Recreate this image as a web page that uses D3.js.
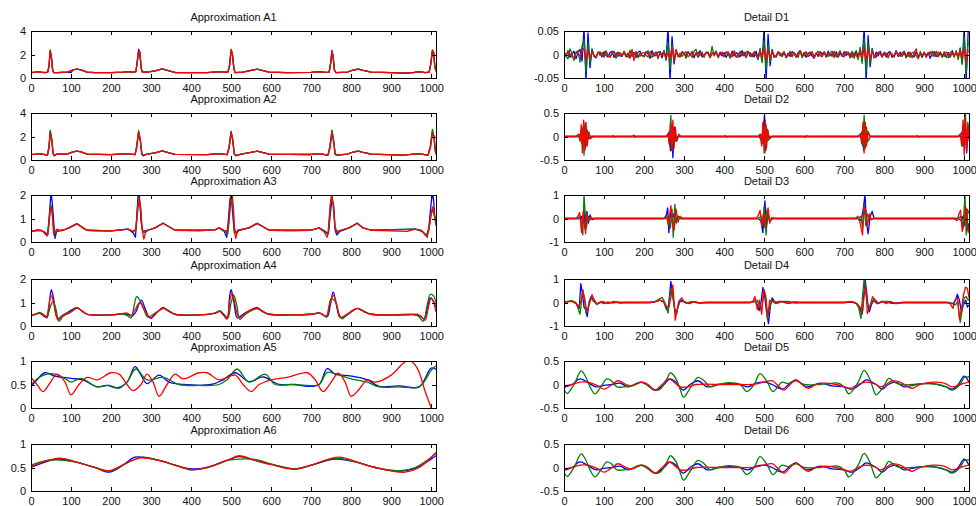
<!DOCTYPE html>
<html>
<head>
<meta charset="utf-8">
<script src="https://cdn.jsdelivr.net/npm/d3@7"></script>
<style>
  body { margin: 0; background: #fff; }
  svg { display: block; font-family: "Liberation Sans", Arial, sans-serif; }
</style>
</head>
<body>
<svg id="chart" width="976" height="506"></svg>
<script>
// x axis (sample index)
const xMax = 1012;
const xTicks = [0, 100, 200, 300, 400, 500, 600, 700, 800, 900, 1000];

// ---- Approximation A1 ----
const a1Red = [[0,0.45],[10,0.5],[18,0.55],[25,0.5],[35,0.45],[42,0.5],[45,1.0],[48,2.4],[51,1.8],[54,0.7],[57,0.45],[65,0.45],[90,0.5],[105,0.7],[115,0.75],[125,0.7],[140,0.5],[160,0.45],[200,0.45],[230,0.5],[240,0.55],[255,0.5],[262,0.55],[265,1.2],[269,2.35],[272,2.2],[275,0.9],[278,0.5],[290,0.5],[310,0.6],[328,0.78],[345,0.6],[360,0.47],[400,0.45],[440,0.45],[470,0.55],[480,0.5],[492,0.5],[496,1.0],[500,2.4],[503,2.1],[507,0.8],[510,0.45],[530,0.5],[550,0.65],[565,0.75],[580,0.62],[595,0.5],[640,0.45],[700,0.48],[720,0.55],[735,0.48],[745,0.5],[749,1.3],[752,2.35],[755,1.8],[758,0.7],[762,0.45],[790,0.5],[805,0.68],[818,0.75],[830,0.65],[850,0.5],[900,0.45],[930,0.42],[955,0.45],[970,0.55],[985,0.45],[995,0.5],[999,1.2],[1003,2.35],[1006,2.2],[1009,1.0],[1012,0.6]];
const a1Green = [[0,0.45],[10,0.5],[18,0.55],[25,0.5],[35,0.45],[42,0.5],[45,1.1],[48,2.3],[51,1.7],[54,0.7],[57,0.45],[65,0.45],[90,0.5],[105,0.7],[115,0.75],[125,0.7],[140,0.5],[160,0.45],[200,0.45],[230,0.5],[240,0.55],[255,0.5],[262,0.55],[265,1.2],[269,2.3],[272,2.1],[275,0.9],[278,0.5],[290,0.5],[310,0.6],[328,0.78],[345,0.6],[360,0.47],[400,0.45],[440,0.45],[470,0.55],[480,0.5],[492,0.5],[496,1.1],[500,2.45],[503,2.1],[507,0.8],[510,0.45],[530,0.5],[550,0.65],[565,0.75],[580,0.62],[595,0.5],[640,0.45],[700,0.48],[720,0.55],[735,0.48],[745,0.5],[749,1.3],[752,2.3],[755,1.8],[758,0.7],[762,0.45],[790,0.5],[805,0.68],[818,0.75],[830,0.65],[850,0.5],[900,0.45],[930,0.42],[955,0.45],[970,0.55],[985,0.45],[995,0.5],[999,1.2],[1003,2.4],[1006,2.2],[1009,1.0],[1012,0.6]];
const a1Blue = [[0,0.45],[10,0.5],[18,0.55],[25,0.5],[35,0.45],[42,0.5],[45,1.0],[48,2.3],[51,1.8],[54,0.7],[57,0.45],[65,0.45],[90,0.5],[100,0.45],[105,0.7],[115,0.75],[125,0.7],[140,0.5],[160,0.45],[200,0.45],[230,0.5],[240,0.55],[255,0.5],[262,0.55],[265,1.3],[269,2.45],[272,2.2],[275,0.9],[278,0.5],[290,0.5],[310,0.6],[328,0.78],[345,0.6],[360,0.47],[400,0.45],[440,0.45],[470,0.55],[480,0.5],[492,0.5],[496,1.0],[500,2.3],[503,2.1],[507,0.8],[510,0.45],[530,0.5],[550,0.65],[565,0.75],[580,0.62],[595,0.5],[640,0.45],[700,0.48],[720,0.55],[735,0.48],[745,0.5],[749,1.3],[752,2.3],[755,1.8],[758,0.7],[762,0.45],[790,0.5],[805,0.68],[818,0.75],[830,0.65],[850,0.5],[900,0.45],[930,0.42],[955,0.45],[970,0.55],[985,0.45],[995,0.5],[999,1.2],[1003,2.3],[1006,2.2],[1009,1.0],[1012,0.55]];

// ---- Approximation A2 ----
const a2Red = [[0,0.45],[12,0.5],[20,0.55],[35,0.45],[41,0.4],[45,1.0],[48,2.3],[52,1.6],[55,0.6],[58,0.35],[64,0.5],[90,0.5],[105,0.7],[115,0.75],[125,0.7],[140,0.5],[200,0.45],[240,0.55],[260,0.45],[264,1.0],[269,2.35],[273,1.8],[277,0.5],[280,0.35],[290,0.5],[310,0.6],[328,0.78],[345,0.6],[360,0.48],[440,0.45],[470,0.55],[490,0.45],[495,1.0],[500,2.3],[504,1.8],[508,0.5],[512,0.35],[525,0.5],[550,0.65],[565,0.75],[580,0.62],[595,0.5],[700,0.47],[720,0.55],[742,0.4],[747,1.0],[752,2.3],[756,1.6],[760,0.5],[764,0.4],[790,0.5],[805,0.68],[818,0.75],[830,0.65],[850,0.5],[930,0.42],[970,0.55],[992,0.4],[998,1.0],[1003,2.3],[1007,2.0],[1010,0.8],[1012,0.5]];
const a2Green = [[0,0.45],[12,0.5],[20,0.55],[35,0.45],[41,0.4],[45,1.2],[48,2.55],[52,1.8],[55,0.6],[58,0.4],[64,0.5],[90,0.5],[105,0.7],[115,0.75],[125,0.7],[140,0.5],[200,0.45],[240,0.55],[260,0.45],[264,1.2],[269,2.5],[273,1.7],[277,0.5],[280,0.4],[290,0.5],[310,0.6],[328,0.78],[345,0.6],[360,0.48],[440,0.45],[470,0.55],[490,0.45],[495,1.1],[500,2.45],[504,1.7],[508,0.5],[512,0.4],[525,0.5],[550,0.65],[565,0.75],[580,0.62],[595,0.5],[700,0.47],[720,0.55],[742,0.42],[747,1.2],[752,2.55],[756,1.7],[760,0.5],[764,0.42],[790,0.5],[805,0.68],[818,0.75],[830,0.65],[850,0.5],[930,0.42],[970,0.55],[992,0.42],[998,1.2],[1003,2.6],[1007,2.0],[1010,0.9],[1012,0.5]];
const a2Blue = [[0,0.45],[12,0.5],[20,0.55],[35,0.45],[41,0.4],[45,1.1],[48,2.4],[52,1.7],[55,0.6],[58,0.38],[64,0.5],[90,0.5],[105,0.7],[115,0.75],[125,0.7],[140,0.5],[200,0.45],[240,0.55],[260,0.45],[264,1.1],[269,2.4],[273,1.7],[277,0.5],[280,0.38],[290,0.5],[310,0.6],[328,0.78],[345,0.6],[360,0.48],[440,0.45],[470,0.55],[490,0.45],[495,1.1],[500,2.4],[504,1.7],[508,0.5],[512,0.38],[525,0.5],[550,0.65],[565,0.75],[580,0.62],[595,0.5],[700,0.47],[720,0.55],[742,0.42],[747,1.1],[752,2.45],[756,1.7],[760,0.5],[764,0.42],[790,0.5],[805,0.68],[818,0.75],[830,0.65],[850,0.5],[930,0.42],[970,0.55],[992,0.42],[998,1.1],[1003,2.4],[1007,2.0],[1010,0.9],[1012,0.5]];

// ---- Approximation A3 ----
const a3Red = [[0,0.45],[15,0.5],[25,0.5],[33,0.4],[40,0.25],[44,0.6],[48,1.3],[51,1.5],[54,1.0],[57,0.3],[60,0.45],[65,0.55],[70,0.48],[80,0.5],[95,0.6],[115,0.78],[130,0.6],[140,0.5],[160,0.47],[200,0.47],[230,0.52],[242,0.55],[255,0.45],[262,0.5],[266,1.2],[270,1.85],[274,1.5],[278,0.5],[282,0.12],[286,0.4],[292,0.5],[310,0.6],[330,0.8],[345,0.65],[360,0.5],[420,0.47],[460,0.52],[470,0.6],[482,0.5],[490,0.45],[494,0.8],[498,1.6],[503,2.0],[506,1.4],[509,0.4],[512,0.15],[516,0.5],[530,0.55],[545,0.6],[565,0.8],[580,0.65],[595,0.5],[650,0.47],[700,0.5],[720,0.6],[732,0.45],[740,0.2],[744,0.5],[748,1.6],[752,1.95],[756,1.5],[760,0.6],[764,0.4],[775,0.5],[795,0.6],[815,0.8],[830,0.6],[850,0.5],[900,0.47],[940,0.45],[960,0.55],[975,0.5],[985,0.3],[990,0.2],[995,0.6],[1000,1.2],[1004,1.5],[1008,1.2],[1012,0.9]];
const a3Green = [[0,0.45],[15,0.5],[28,0.48],[36,0.35],[41,0.3],[45,0.9],[49,1.6],[53,1.3],[56,0.6],[60,0.35],[66,0.5],[80,0.5],[95,0.6],[115,0.78],[130,0.6],[140,0.5],[200,0.47],[242,0.55],[255,0.45],[262,0.55],[266,1.4],[269,1.9],[273,1.6],[277,0.6],[282,0.4],[292,0.5],[310,0.6],[330,0.8],[345,0.65],[360,0.5],[460,0.52],[470,0.6],[485,0.45],[492,0.35],[496,1.1],[500,2.0],[504,1.5],[508,0.6],[513,0.35],[520,0.5],[545,0.6],[565,0.8],[580,0.65],[595,0.5],[700,0.5],[720,0.6],[735,0.4],[742,0.35],[747,1.4],[751,2.05],[755,1.6],[759,0.7],[764,0.45],[775,0.5],[795,0.6],[815,0.8],[830,0.6],[850,0.5],[960,0.55],[978,0.45],[988,0.3],[994,0.5],[999,1.1],[1003,1.4],[1008,1.1],[1012,0.7]];
const a3Blue = [[0,0.45],[15,0.5],[28,0.48],[36,0.4],[42,0.3],[46,1.2],[50,2.1],[53,1.7],[57,0.8],[60,0.15],[64,0.45],[80,0.5],[95,0.6],[115,0.78],[130,0.6],[140,0.5],[200,0.47],[242,0.55],[255,0.4],[261,0.2],[264,1.0],[268,2.1],[271,1.9],[275,0.9],[279,0.45],[292,0.5],[310,0.6],[330,0.8],[345,0.65],[360,0.5],[460,0.52],[470,0.6],[483,0.45],[489,0.2],[493,0.9],[497,1.8],[500,2.0],[504,1.2],[508,0.4],[513,0.4],[520,0.5],[545,0.6],[565,0.78],[580,0.65],[595,0.5],[700,0.5],[720,0.6],[735,0.45],[743,0.35],[748,1.2],[752,1.8],[756,1.6],[760,0.5],[764,0.3],[772,0.45],[795,0.6],[815,0.8],[830,0.6],[850,0.5],[960,0.55],[978,0.45],[988,0.25],[994,0.6],[999,1.5],[1003,2.1],[1006,1.8],[1009,1.0],[1012,0.95]];

// ---- Approximation A4 ----
const a4Red = [[0,0.45],[10,0.5],[20,0.55],[30,0.45],[38,0.38],[44,0.8],[50,1.3],[55,1.1],[62,0.5],[68,0.25],[76,0.4],[85,0.5],[100,0.6],[115,0.78],[128,0.62],[140,0.5],[160,0.47],[200,0.47],[225,0.52],[240,0.55],[250,0.45],[262,0.75],[272,1.0],[280,0.8],[292,0.45],[300,0.35],[312,0.55],[330,0.75],[345,0.62],[360,0.5],[420,0.47],[460,0.55],[472,0.62],[482,0.45],[490,0.3],[497,1.1],[503,1.4],[510,0.9],[518,0.4],[525,0.35],[540,0.6],[565,0.75],[580,0.6],[595,0.5],[650,0.47],[700,0.5],[722,0.55],[738,0.42],[748,1.0],[756,1.3],[764,0.9],[773,0.35],[785,0.45],[800,0.6],[817,0.75],[832,0.6],[850,0.5],[900,0.47],[950,0.48],[965,0.5],[975,0.4],[985,0.25],[993,0.8],[1000,1.2],[1006,1.0],[1012,0.6]];
const a4Green = [[0,0.45],[12,0.5],[22,0.58],[32,0.48],[40,0.4],[48,0.8],[55,1.05],[62,0.75],[70,0.2],[80,0.4],[95,0.55],[115,0.75],[130,0.62],[140,0.5],[200,0.47],[225,0.52],[240,0.45],[250,0.35],[257,0.8],[264,1.25],[272,1.1],[282,0.7],[292,0.38],[302,0.45],[315,0.6],[332,0.75],[345,0.65],[360,0.5],[420,0.47],[460,0.55],[472,0.65],[482,0.5],[492,0.35],[500,1.0],[507,1.3],[514,0.9],[522,0.28],[532,0.45],[545,0.6],[565,0.73],[580,0.62],[595,0.5],[650,0.47],[700,0.5],[722,0.55],[738,0.38],[744,0.8],[750,1.15],[760,1.05],[770,0.5],[778,0.3],[790,0.5],[815,0.75],[832,0.62],[850,0.5],[900,0.47],[955,0.5],[968,0.42],[980,0.2],[990,0.9],[998,1.35],[1005,1.3],[1012,1.0]];
const a4Blue = [[0,0.45],[12,0.5],[22,0.55],[32,0.42],[40,0.35],[46,1.0],[51,1.55],[57,1.1],[64,0.4],[68,0.3],[78,0.45],[92,0.58],[115,0.78],[128,0.62],[140,0.5],[200,0.47],[230,0.52],[242,0.5],[252,0.42],[262,0.6],[270,0.95],[276,1.1],[284,0.8],[294,0.4],[300,0.33],[315,0.58],[330,0.78],[345,0.62],[360,0.5],[420,0.47],[460,0.55],[472,0.62],[482,0.45],[490,0.3],[496,1.2],[500,1.55],[507,1.0],[515,0.35],[522,0.4],[540,0.6],[565,0.78],[580,0.6],[595,0.5],[650,0.47],[700,0.5],[722,0.55],[740,0.4],[748,0.9],[755,1.45],[762,1.0],[772,0.38],[785,0.42],[800,0.6],[815,0.75],[832,0.62],[850,0.5],[900,0.47],[955,0.48],[970,0.45],[982,0.3],[990,0.7],[998,1.2],[1004,1.1],[1012,0.8]];

// ---- Approximation A5 ----
const a5Blue = [[0,0.45],[15,0.6],[35,0.75],[60,0.68],[100,0.63],[130,0.6],[165,0.45],[190,0.48],[215,0.43],[240,0.55],[260,0.88],[275,0.7],[290,0.52],[320,0.7],[345,0.55],[380,0.5],[450,0.5],[480,0.6],[510,0.75],[545,0.56],[580,0.66],[620,0.5],[660,0.5],[690,0.46],[720,0.5],[740,0.84],[760,0.72],[800,0.68],[840,0.6],[870,0.46],[920,0.47],[970,0.45],[1000,0.85],[1012,0.82]];
const a5Green = [[0,0.5],[20,0.65],[40,0.72],[60,0.72],[90,0.6],[100,0.55],[125,0.63],[165,0.45],[195,0.48],[220,0.42],[240,0.55],[262,0.83],[290,0.6],[330,0.65],[370,0.5],[420,0.48],[470,0.5],[490,0.6],[515,0.83],[545,0.55],[585,0.72],[610,0.5],[650,0.5],[690,0.48],[720,0.5],[740,0.76],[760,0.73],[800,0.62],[840,0.55],[870,0.45],[920,0.45],[970,0.45],[1000,0.8],[1012,0.9]];
const a5Red = [[0,0.65],[15,0.5],[30,0.35],[45,0.5],[65,0.72],[85,0.55],[100,0.28],[120,0.5],[140,0.65],[165,0.6],[200,0.75],[220,0.72],[240,0.5],[255,0.37],[275,0.5],[290,0.72],[305,0.55],[320,0.25],[340,0.5],[360,0.72],[380,0.62],[420,0.75],[440,0.75],[470,0.6],[510,0.7],[530,0.5],[550,0.35],[570,0.5],[600,0.6],[640,0.65],[690,0.75],[710,0.6],[730,0.35],[750,0.55],[768,0.74],[785,0.55],[800,0.25],[820,0.4],[840,0.6],[860,0.55],[900,0.7],[930,0.95],[945,1.02],[965,0.85],[985,0.35],[1000,0.0],[1012,-0.3]];

// ---- Approximation A6 ----
const a6Blue = [[0,0.5],[65,0.68],[110,0.62],[160,0.5],[195,0.4],[230,0.55],[260,0.72],[320,0.65],[360,0.55],[400,0.47],[440,0.5],[490,0.65],[520,0.73],[560,0.65],[600,0.57],[660,0.47],[700,0.55],[760,0.68],[810,0.62],[860,0.5],[920,0.42],[960,0.48],[1012,0.75]];
const a6Green = [[0,0.55],[50,0.66],[110,0.62],[160,0.5],[200,0.43],[240,0.6],[280,0.72],[320,0.65],[360,0.55],[400,0.45],[440,0.5],[490,0.65],[520,0.68],[560,0.67],[610,0.55],[660,0.47],[720,0.6],[760,0.7],[820,0.6],[860,0.5],[920,0.43],[960,0.5],[1012,0.8]];
const a6Red = [[0,0.52],[70,0.7],[120,0.6],[160,0.5],[190,0.42],[240,0.6],[270,0.7],[320,0.65],[360,0.55],[400,0.45],[440,0.5],[490,0.65],[520,0.75],[560,0.65],[600,0.56],[660,0.46],[700,0.55],[770,0.72],[820,0.6],[860,0.5],[935,0.4],[970,0.5],[1012,0.82]];

// ---- Detail D1 (sampled every 5, values in thousandths) ----
const d1Step = 5;
const d1BlueMilli = [5,-3,8,-6,2,7,-9,4,11,-14, 55,-55,46,-28,12,-4,-7,5,2,-5, 6,-2,-5,4,7,-6,1,5,-3,-4, 6,-5,3,-7,2,4,-6,5,7,-2, -4,6,1,-8,8,-3,-2,5,6,-7, 7,-11,55,-55,38,-20,9,-2,-5,6, 3,-4,6,-2,5,-7,4,2,8,-5, -2,4,5,-6,3,1,7,-5,5,-3, 4,-6,2,-5,7,-3,4,1,-5,8, -3,5,6,-4,2,-5,7,-9,11,-15, 55,-55,43,-24,11,-6,-3,5,2,-4, 5,-7,3,-4,6,2,-5,4,8,-3, 4,-6,2,5,-3,-8,3,-4,6,1, 5,-4,7,-3,2,-5,6,-6,3,-4, 6,-2,5,-7,3,-4,8,-5,11,-13, 55,-55,40,-26,13,-7,5,-3,7,-4, 2,-5,4,6,-6,-2,8,-4,5,-3, 4,-7,5,2,-3,-5,6,-4,2,-6, 5,-3,4,-8,2,6,-4,-3,5,-2, 3,-6,4,-5,8,-3,5,-7,13,-19, 55,-55,50];
const d1GreenMilli = [6,-4,-9,12,2,-13,5,8,-16,18, 32,-36,24,-18,10,-3,-7,5,-2,4, -6,8,-1,-5,3,6,-8,2,4,-3, 7,-2,-6,9,-4,1,5,-7,3,-2, -5,4,8,-3,-6,2,5,-9,6,-1, 9,-12,26,-30,22,-10,6,-3,-5,4, 3,-8,5,1,-6,7,11,-4,-2,5, -6,4,2,-5,17,-3,6,-7,1,4, -5,6,2,-8,3,5,-4,-6,7,-2, 5,-7,3,4,-5,6,-2,-11,13,-17, 29,-33,21,-15,8,-2,-6,5,3,-4, 6,-5,-3,7,-2,4,-6,1,8,-7, 3,5,-4,-2,6,-6,2,7,-3,-4, 5,-6,3,1,-4,7,-5,2,8,-3, -5,6,2,-4,7,-8,5,-11,15,-19, 34,-37,25,-17,11,-4,-6,5,2,-6, 4,3,-7,5,-2,-5,6,1,-4,3, 7,-5,2,-6,4,5,-3,-8,6,-2, 4,-6,3,1,7,-4,-3,5,2,-6, 6,-4,-7,5,3,-6,8,-11,14,-21, 37,-39,29];
const d1RedMilli = [3,-2,6,1,-5,-7,4,2,-3,8, 13,-14,9,-6,4,-2,-5,3,6,-4, 1,5,-3,-6,2,7,-1,-4,3,-2, 5,-3,2,-8,11,-13,6,-1,-4,3, 4,-2,-5,6,1,-3,5,-6,2,-1, 6,-8,4,-10,15,-14,11,-5,3,-4, 2,6,-5,-1,7,-3,2,-6,4,1, -3,5,2,-7,4,-2,6,-4,-1,5, -4,3,6,-2,-5,8,-6,1,4,-3, 2,-5,7,-1,-3,5,-2,-7,6,-4, 14,-13,10,-7,5,-2,-4,6,-3,2, 5,-6,1,3,-5,4,-2,-6,8,-1, -3,6,-4,2,5,-7,3,-2,4,-5, 6,-1,-4,3,7,-6,2,-3,5,-2, -4,6,-1,3,-6,4,-2,-8,9,-5, 15,-14,11,-8,6,-3,-5,4,2,-4, 5,-2,-6,3,1,-5,7,-3,2,-4, 6,-1,-4,5,-7,3,12,-9,2,-3, 4,-5,1,6,-3,-2,7,-5,3,-1, -4,5,2,-6,4,-3,6,-5,8,-7, 13,-15,10];
const toPairs = (vals) => vals.map((v, i) => [i * d1Step, v / 1000]);
const d1Blue = toPairs(d1BlueMilli), d1Green = toPairs(d1GreenMilli), d1Red = toPairs(d1RedMilli);

// ---- Detail D2 ----
const d2Blue = [[0,0],[38,0],[43,0.05],[47,-0.2],[50,0.25],[53,-0.25],[57,0.15],[62,-0.05],[68,0],[258,0],[263,0.1],[266,-0.3],[269,0.25],[272,-0.45],[276,0.2],[280,-0.1],[286,0],[488,0],[494,-0.1],[498,0.2],[501,0.45],[504,-0.3],[508,0.15],[513,-0.05],[520,0],[738,0],[745,0.1],[749,-0.3],[752,0.3],[755,-0.2],[759,0.1],[765,0],[988,0],[995,0.1],[999,-0.2],[1002,0.35],[1006,-0.35],[1010,0.2],[1012,0]];
const d2Green = [[0,0],[35,0],[40,0.05],[44,-0.15],[47,0.2],[50,-0.4],[53,0.3],[56,-0.2],[60,0.1],[66,0],[255,0],[260,0.05],[264,-0.2],[267,0.45],[270,-0.3],[273,0.2],[277,-0.1],[283,0],[485,0],[492,0.05],[496,-0.15],[499,0.2],[502,-0.35],[505,0.25],[509,-0.1],[515,0],[735,0],[742,0.05],[746,-0.2],[750,0.45],[753,-0.25],[756,0.2],[760,-0.1],[766,0],[985,0],[992,0.05],[996,-0.2],[1000,0.3],[1003,0.5],[1006,-0.3],[1009,0.3],[1012,0]];
const d2Red = [[0,0],[30,0],[36,0.05],[40,-0.1],[43,0.25],[46,-0.35],[49,0.35],[52,-0.3],[55,0.3],[58,-0.2],[62,0.1],[66,-0.05],[72,0],[120,0],[123,0.02],[126,-0.02],[129,0],[170,0],[175,0.03],[178,-0.02],[181,0],[255,0],[260,0.05],[263,-0.15],[266,0.3],[269,-0.3],[272,0.35],[275,-0.25],[278,0.2],[282,-0.1],[287,0.05],[292,0],[400,0],[403,0.02],[406,-0.02],[409,0],[485,0],[490,0.05],[494,-0.2],[497,0.3],[500,-0.35],[503,0.35],[506,-0.25],[509,0.15],[513,-0.05],[520,0],[600,0],[603,-0.02],[606,0.02],[609,0],[735,0],[740,0.05],[744,-0.15],[747,0.3],[750,-0.35],[753,0.3],[756,-0.2],[760,0.1],[765,0],[880,0],[883,0.02],[886,-0.02],[889,0],[985,0],[990,0.05],[994,-0.2],[997,0.35],[1000,-0.4],[1003,0.4],[1006,-0.3],[1009,0.25],[1012,-0.1]];

// ---- Detail D3 ----
const d3Blue = [[0,0],[38,0],[43,0.1],[47,-0.2],[50,0.35],[53,-0.4],[57,0.3],[61,-0.2],[65,0.15],[70,-0.05],[78,0],[250,0],[256,0.15],[259,0.45],[262,-0.6],[266,0.3],[270,-0.1],[274,0.2],[279,-0.15],[284,0.1],[290,0],[485,0],[492,-0.1],[497,-0.6],[502,0.75],[506,-0.3],[510,0.2],[515,-0.1],[522,0],[735,0],[742,-0.1],[747,0.3],[752,1.0],[756,-0.2],[760,-0.65],[765,0.1],[770,0.3],[775,0],[985,0],[993,-0.1],[997,0.1],[1001,-0.3],[1005,0.4],[1009,-0.5],[1012,-0.2]];
const d3Green = [[0,0],[35,0],[40,0.1],[44,-0.3],[47,-0.7],[50,1.0],[53,0.2],[56,-0.4],[60,0.1],[65,-0.05],[70,0],[255,0],[262,0.1],[266,-0.4],[270,0.4],[273,-0.8],[277,0.6],[281,-0.2],[286,0.1],[292,0],[485,0],[492,0.1],[497,-0.3],[500,0.5],[505,-0.7],[509,0.3],[513,-0.1],[520,0],[735,0],[742,0.1],[746,-0.4],[750,0.6],[754,-0.3],[758,0.2],[764,-0.05],[770,0],[985,0],[992,0.1],[997,-0.4],[1002,1.0],[1005,-0.7],[1008,0.4],[1012,0.2]];
const d3Red = [[0,0],[30,0],[35,0.1],[39,0.25],[44,-0.6],[48,0.3],[51,-0.3],[54,-0.65],[57,0.2],[61,-0.1],[66,0.05],[72,0],[250,0],[256,0.1],[261,-0.3],[267,0.55],[271,-0.2],[275,-0.5],[280,0.4],[285,-0.15],[290,0.1],[296,0],[480,0],[486,0.15],[490,0.35],[494,-0.3],[498,0.2],[502,-0.4],[506,0.3],[510,0.45],[514,-0.2],[519,0.05],[526,0],[728,0],[734,0.1],[740,-0.2],[746,-0.7],[750,0.5],[754,0.35],[758,-0.3],[763,0.2],[768,-0.05],[775,0],[975,0],[982,-0.1],[987,0.2],[991,0.35],[995,-0.55],[999,-0.3],[1003,0.5],[1007,0.3],[1010,-0.6],[1012,-0.4]];

// ---- Detail D4 ----
const d4Blue = [[0,0],[10,0.05],[20,0.06],[28,0],[34,-0.1],[38,-0.25],[42,0.8],[46,0.4],[50,-0.2],[54,-0.3],[58,-0.6],[63,0.05],[68,0.25],[74,0.05],[82,-0.05],[95,0.03],[110,-0.03],[125,0.03],[140,0],[215,0],[228,0.03],[240,0.1],[250,0],[256,-0.3],[261,-0.2],[267,0.9],[272,0.3],[277,-0.3],[281,-0.5],[287,0.05],[295,0.1],[305,-0.03],[320,0.04],[340,-0.02],[350,0],[465,0],[478,0.05],[483,-0.1],[488,-0.35],[493,0.1],[497,0.64],[502,0.2],[506,-0.4],[511,-0.9],[516,-0.1],[520,0.2],[528,0],[540,0.05],[560,-0.04],[575,0.03],[595,0],[700,0],[720,0.02],[732,-0.05],[740,-0.3],[745,-0.5],[749,0.3],[752,1.0],[756,0.5],[760,-0.2],[763,-0.4],[768,-0.1],[775,0.15],[785,-0.03],[800,0.04],[820,-0.04],[845,0],[960,0],[972,-0.05],[978,0.1],[983,0.35],[988,0.1],[993,-0.4],[998,-0.1],[1004,0.1],[1008,-0.2],[1012,-0.1]];
const d4Green = [[0,0],[10,0.05],[20,0.08],[30,0],[36,-0.3],[40,-0.5],[44,0.1],[47,0.55],[51,0.2],[55,-0.45],[60,-0.2],[67,0.2],[74,0.05],[82,-0.08],[95,0.05],[110,-0.05],[125,0.05],[140,-0.03],[155,0],[215,0],[228,0.05],[238,0.15],[245,0.22],[252,0],[260,-0.45],[264,0.2],[268,0.6],[273,0.1],[278,-0.4],[283,-0.3],[290,0.05],[300,0.03],[315,-0.05],[325,0.05],[340,-0.03],[360,0],[465,0],[475,0.05],[482,0.1],[488,-0.1],[494,-0.3],[500,0.55],[504,0.2],[508,-0.7],[514,-0.2],[520,0.1],[530,0],[540,0.05],[560,0.05],[580,-0.03],[595,0],[700,0],[715,0.05],[728,0],[736,-0.2],[742,-0.68],[746,0.3],[750,1.0],[755,0.3],[760,-0.2],[766,-0.1],[772,0.1],[782,-0.05],[795,0.05],[810,0.05],[830,-0.05],[850,0],[960,0],[970,-0.05],[978,-0.1],[984,0.05],[990,-0.85],[995,-0.3],[1000,0.2],[1005,0.25],[1010,0.1],[1012,0.15]];
const d4Red = [[0,0],[10,0.03],[20,0.05],[30,-0.05],[37,-0.2],[43,0.1],[47,0.5],[52,0.1],[57,-0.4],[63,-0.1],[70,0.33],[76,0.1],[82,-0.08],[90,0.02],[100,-0.05],[110,0.03],[120,-0.03],[130,0],[215,0],[225,0.03],[240,0.1],[248,0.05],[256,-0.15],[262,-0.2],[267,0.2],[272,0.75],[278,-0.75],[283,-0.3],[289,0.1],[294,0.2],[300,0.05],[310,-0.05],[320,0.04],[335,-0.03],[350,0],[465,0],[472,0.05],[477,0.25],[483,-0.3],[488,0.1],[494,-0.5],[499,0.55],[504,0.3],[509,-0.6],[514,0.1],[520,0.05],[530,-0.05],[545,0.04],[560,-0.03],[580,0],[700,0],[720,0.03],[732,-0.05],[740,-0.2],[746,-0.4],[750,0.3],[754,0.7],[758,-0.47],[764,-0.2],[771,0.25],[778,0.05],[785,-0.05],[795,0.05],[805,-0.05],[815,0.05],[828,-0.05],[845,0],[955,0],[965,-0.05],[972,-0.25],[977,0.1],[983,0.2],[988,-0.7],[993,-0.3],[998,0.3],[1003,0.65],[1008,0.6],[1012,0.2]];

// ---- Detail D5 (D6 reads the same) ----
const d5Blue = [[0,-0.06],[20,0],[40,0.12],[60,0.04],[80,-0.05],[100,-0.02],[120,0],[140,0.03],[160,-0.05],[195,0.05],[215,-0.05],[230,-0.12],[250,0],[265,0.12],[280,0.05],[298,-0.12],[315,0],[335,0.08],[358,-0.05],[385,0],[420,0.02],[440,0],[460,-0.05],[480,0.03],[500,0.05],[520,0],[545,-0.1],[565,0.03],[580,0.1],[605,-0.05],[640,0.03],[670,-0.03],[700,-0.05],[720,-0.1],[740,0],[755,0.1],[780,0],[795,-0.1],[810,0],[830,0.05],[850,-0.05],[880,0],[920,0.02],[955,-0.05],[970,-0.1],[985,0],[1000,0.18],[1012,0.05]];
const d5Green = [[0,-0.1],[8,-0.19],[25,0],[43,0.29],[55,0.15],[65,-0.05],[77,-0.2],[92,-0.05],[107,0.12],[117,0.09],[132,-0.05],[150,-0.05],[170,-0.02],[190,0.05],[205,0],[225,-0.12],[240,-0.1],[257,0.12],[266,0.25],[280,0.12],[290,-0.1],[299,-0.27],[315,-0.08],[335,0.15],[350,0.08],[365,-0.05],[385,0],[410,0.04],[440,0],[457,-0.15],[475,0],[490,0.23],[508,0.05],[522,-0.15],[545,0.05],[560,0.02],[580,0.08],[600,0],[640,0],[665,0.02],[685,0.03],[700,-0.05],[712,-0.2],[735,0.05],[750,0.3],[765,0.1],[772,-0.08],[780,-0.22],[798,-0.05],[812,0.13],[825,0.05],[840,0],[870,0],[900,0.02],[935,0],[955,-0.05],[969,-0.12],[990,0],[1000,0.15],[1012,0.16]];
const d5Red = [[0,-0.03],[20,0],[40,0.05],[60,0.05],[85,-0.03],[100,-0.1],[120,0],[135,0.08],[155,0],[170,-0.03],[195,0.05],[210,0],[227,-0.12],[245,0],[262,0.12],[275,0.05],[290,-0.05],[310,-0.05],[330,0],[400,0],[440,0],[470,0],[500,0.05],[520,0.08],[538,-0.05],[550,-0.12],[565,0],[580,0.1],[595,0],[610,-0.08],[630,0],[650,0.03],[680,0],[700,-0.05],[715,-0.08],[735,0],[755,0.05],[780,0],[790,-0.05],[805,0],[820,0.08],[840,0.05],[860,-0.05],[870,-0.08],[890,0],[920,0.05],[950,0.03],[970,-0.05],[990,0],[1012,0.05]];
const d6Blue = d5Blue, d6Green = d5Green, d6Red = d5Red;

const seriesColors = ["#0000ff", "#008000", "#ff0000"]; // drawn in this order

const panels = [
  { title: "Approximation A1", col: 0, row: 0, yDomain: [0, 4], yTicks: [0, 2, 4], lines: [a1Blue, a1Green, a1Red] },
  { title: "Approximation A2", col: 0, row: 1, yDomain: [0, 4], yTicks: [0, 2, 4], lines: [a2Blue, a2Green, a2Red] },
  { title: "Approximation A3", col: 0, row: 2, yDomain: [0, 2], yTicks: [0, 1, 2], lines: [a3Blue, a3Green, a3Red] },
  { title: "Approximation A4", col: 0, row: 3, yDomain: [0, 2], yTicks: [0, 1, 2], lines: [a4Blue, a4Green, a4Red], smooth: true },
  { title: "Approximation A5", col: 0, row: 4, yDomain: [0, 1], yTicks: [0, 0.5, 1], lines: [a5Blue, a5Green, a5Red], smooth: true },
  { title: "Approximation A6", col: 0, row: 5, yDomain: [0, 1], yTicks: [0, 0.5, 1], lines: [a6Blue, a6Green, a6Red], smooth: true },
  { title: "Detail D1", col: 1, row: 0, yDomain: [-0.05, 0.05], yTicks: [-0.05, 0, 0.05], lines: [d1Blue, d1Green, d1Red] },
  { title: "Detail D2", col: 1, row: 1, yDomain: [-0.5, 0.5], yTicks: [-0.5, 0, 0.5], lines: [d2Blue, d2Green, d2Red] },
  { title: "Detail D3", col: 1, row: 2, yDomain: [-1, 1], yTicks: [-1, 0, 1], lines: [d3Blue, d3Green, d3Red] },
  { title: "Detail D4", col: 1, row: 3, yDomain: [-1, 1], yTicks: [-1, 0, 1], lines: [d4Blue, d4Green, d4Red] },
  { title: "Detail D5", col: 1, row: 4, yDomain: [-0.5, 0.5], yTicks: [-0.5, 0, 0.5], lines: [d5Blue, d5Green, d5Red], smooth: true },
  { title: "Detail D6", col: 1, row: 5, yDomain: [-0.5, 0.5], yTicks: [-0.5, 0, 0.5], lines: [d6Blue, d6Green, d6Red], smooth: true },
];

// layout (pixels)
const colX = [[31, 436], [564, 969]];
const rowTops = [31, 113, 195, 279, 361, 444];
const plotH = 47;
const tick = 4;
const lineWidth = 1.3;

const svg = d3.select("#chart");

panels.forEach((p, i) => {
  const [x0, x1] = colX[p.col];
  const top = rowTops[p.row];
  const bottom = top + plotH;

  const x = d3.scaleLinear().domain([0, xMax]).range([x0, x1]);
  const y = d3.scaleLinear().domain(p.yDomain).range([bottom, top]);

  const g = svg.append("g").attr("class", "panel");

  g.append("clipPath")
    .attr("id", "clip" + i)
    .append("rect")
    .attr("x", x0)
    .attr("y", top)
    .attr("width", x1 - x0)
    .attr("height", plotH);

  const line = d3
    .line()
    .x((d) => x(d[0]))
    .y((d) => y(d[1]))
    .curve(p.smooth ? d3.curveCatmullRom.alpha(0.5) : d3.curveLinear);

  g.append("g")
    .attr("clip-path", `url(#clip${i})`)
    .selectAll("path")
    .data(p.lines)
    .join("path")
    .attr("d", line)
    .attr("fill", "none")
    .attr("stroke", (d, j) => seriesColors[j])
    .attr("stroke-width", lineWidth)
    .attr("stroke-linejoin", "round");

  const fmt = (d) => String(d);

  const bx = g.append("g")
    .attr("transform", `translate(0,${bottom})`)
    .call(d3.axisBottom(x).tickValues(xTicks).tickFormat(fmt).tickSizeInner(-tick).tickSizeOuter(0).tickPadding(6));
  const tx = g.append("g")
    .attr("transform", `translate(0,${top})`)
    .call(d3.axisTop(x).tickValues(xTicks).tickFormat("").tickSizeInner(-tick).tickSizeOuter(0));
  const ly = g.append("g")
    .attr("transform", `translate(${x0},0)`)
    .call(d3.axisLeft(y).tickValues(p.yTicks).tickFormat(fmt).tickSizeInner(-tick).tickSizeOuter(0).tickPadding(5));
  const ry = g.append("g")
    .attr("transform", `translate(${x1},0)`)
    .call(d3.axisRight(y).tickValues(p.yTicks).tickFormat("").tickSizeInner(-tick).tickSizeOuter(0));

  [bx, tx, ly, ry].forEach((a) => {
    a.select(".domain").remove();
    a.selectAll("line").attr("stroke", "#000").attr("shape-rendering", "crispEdges");
    a.selectAll("text")
      .attr("fill", "#111")
      .style("font-size", "11px")
      .style("font-family", '"Liberation Sans", Arial, sans-serif');
  });

  g.append("rect")
    .attr("x", x0)
    .attr("y", top)
    .attr("width", x1 - x0)
    .attr("height", plotH)
    .attr("fill", "none")
    .attr("stroke", "#000")
    .attr("stroke-width", 1)
    .attr("shape-rendering", "crispEdges");

  g.append("text")
    .attr("x", (x0 + x1) / 2)
    .attr("y", top - 10)
    .attr("text-anchor", "middle")
    .attr("fill", "#111")
    .style("font-size", "11px")
    .text(p.title);
});
</script>
</body>
</html>
